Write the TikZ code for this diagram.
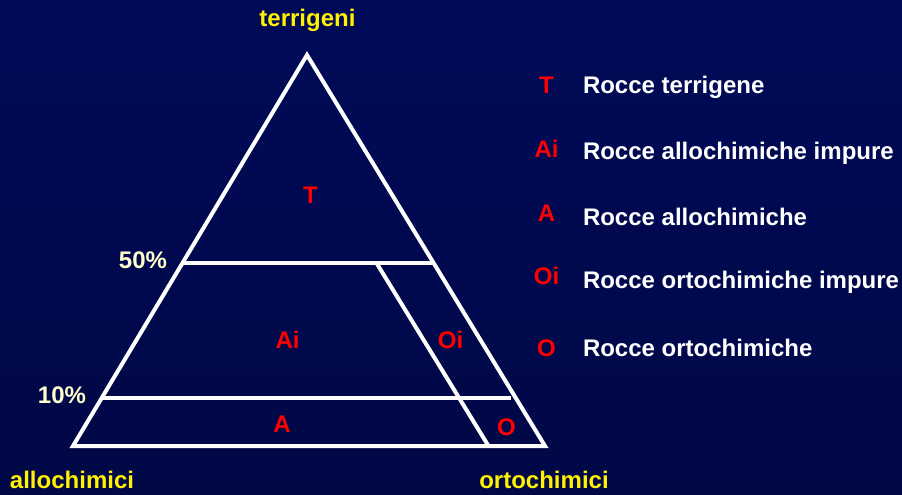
\documentclass[tikz,border=0pt]{standalone}
\usepackage{fontspec}
\setmainfont{Liberation Sans}
\definecolor{fondoalto}{HTML}{000A58}
\definecolor{fondomedio}{HTML}{001474}
\definecolor{fondobasso}{HTML}{000846}
\definecolor{crema}{HTML}{FFFFCC}
\begin{document}
\begin{tikzpicture}[x=1pt, y=-1pt, line width=4pt,
    font=\bfseries\fontsize{24}{28}\selectfont,
    vertice/.style={text=yellow, anchor=base},
    perc/.style={text=crema, anchor=base},
    sigla/.style={text=red, anchor=base},
    voce/.style={text=white, anchor=base west, inner sep=0pt}]

    % sfondo
    \shade[top color=fondoalto, middle color=fondomedio, bottom color=fondobasso]
        (0,0) rectangle (902,495);
    \useasboundingbox (0,0) rectangle (902,495);

    % vertici e divisioni
    \coordinate (apice) at (307,55);
    \coordinate (bs) at (73,446);
    \coordinate (bd) at (545,446);
    \coordinate (s50) at (182.5,263);
    \coordinate (d50) at (431.5,263);
    \coordinate (s10) at (101.7,398);
    \coordinate (d10) at (511,398);
    \coordinate (i50) at (376.5,263);
    \coordinate (ib) at (488.5,446);

    \draw[white] (apice) -- (bs) -- (bd) -- cycle;
    \draw[white] (s50) -- (d50);
    \draw[white] (s10) -- (d10);
    \draw[white] (i50) -- (ib);

    % poli
    \node[vertice] (terr) at (307.5,27) {terrigeni};
    \node[vertice] (allo) at (72,488) {allochimici};
    \node[vertice] (orto) at (544,488) {ortochimici};
    \node[perc] (p50) at (143,268.5) {50\%};
    \node[perc] (p10) at (62,403) {10\%};

    % campi
    \node[sigla] (cT) at (310.5,203) {T};
    \node[sigla] (cAi) at (287.5,348) {Ai};
    \node[sigla] (cOi) at (450.5,348) {Oi};
    \node[sigla] (cA) at (282,432) {A};
    \node[sigla] (cO) at (506.5,435) {O};

    % legenda
    \foreach \s/\y/\t/\yt in {T/93.3/Rocce terrigene/93.3,
                              Ai/157.3/Rocce allochimiche impure/159.3,
                              A/221.7/Rocce allochimiche/225,
                              Oi/284/Rocce ortochimiche impure/288.3,
                              O/356.7/Rocce ortochimiche/356.7} {
        \node[sigla] (l\s) at (546.5,\y) {\s};
        \node[voce] (v\s) at (581,\yt) {\t};
    }

\end{tikzpicture}
\end{document}
